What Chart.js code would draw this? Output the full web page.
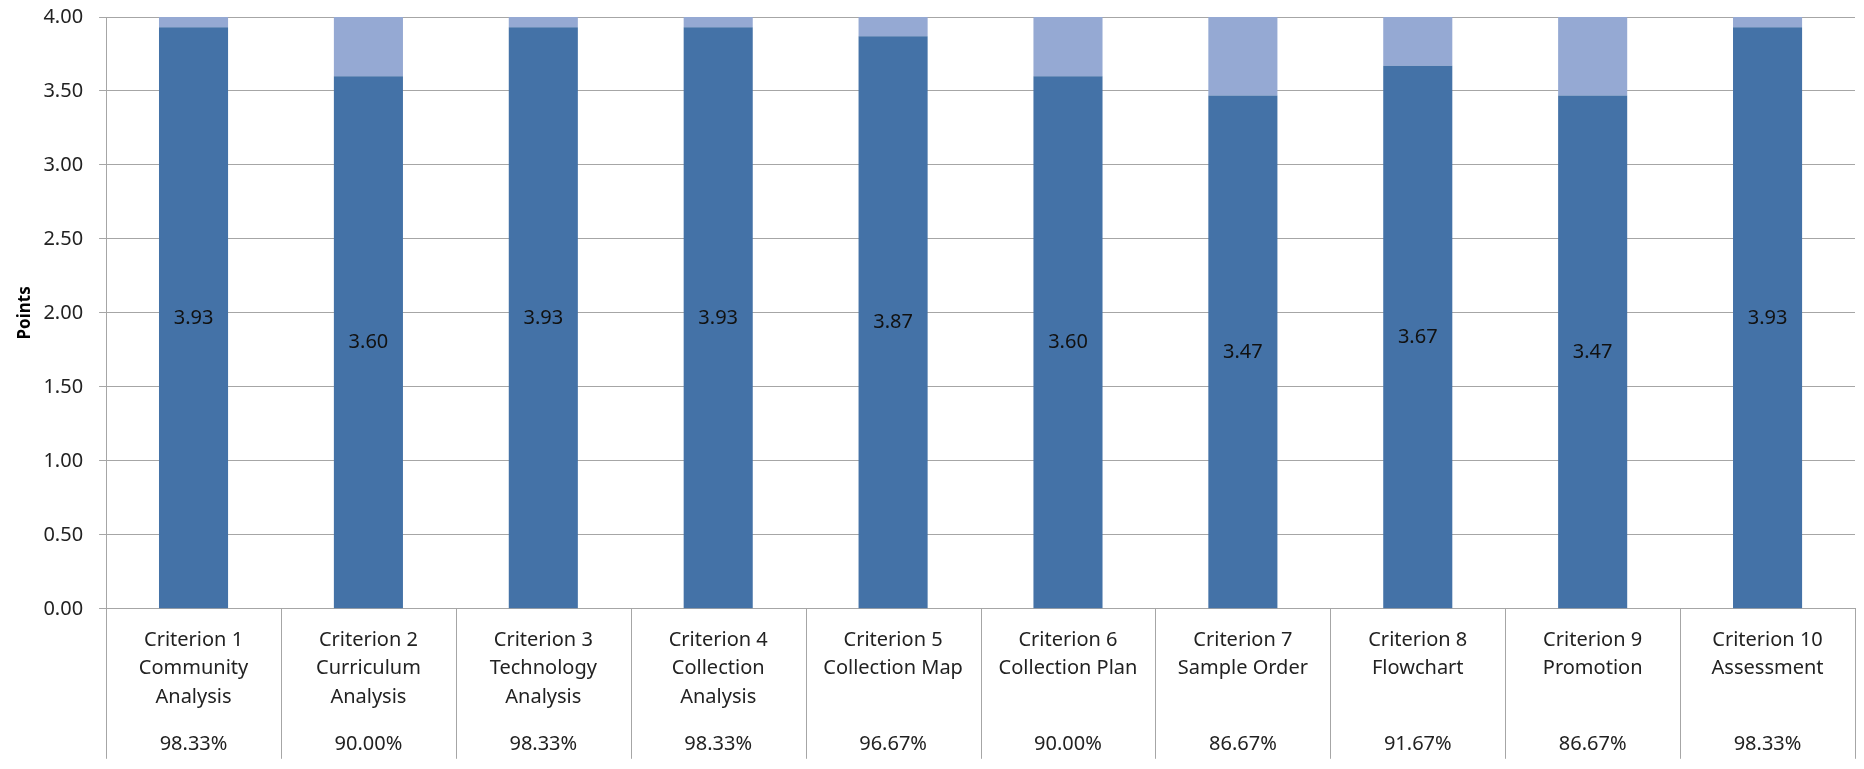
<!DOCTYPE html>
<html>
<head>
<meta charset="utf-8">
<script src="https://cdn.jsdelivr.net/npm/chart.js@4.4.0/dist/chart.umd.min.js"></script>
<style>
    html, body { margin: 0; padding: 0; background: #fff; }
    #wrap { width: 1864px; height: 769px; position: relative; }
</style>
</head>
<body>
<div id="wrap"><canvas id="pointsChart"></canvas></div>
<script>
var criteria = [
    ['Criterion 1', 'Community', 'Analysis'],
    ['Criterion 2', 'Curriculum', 'Analysis'],
    ['Criterion 3', 'Technology', 'Analysis'],
    ['Criterion 4', 'Collection', 'Analysis'],
    ['Criterion 5', 'Collection Map'],
    ['Criterion 6', 'Collection Plan'],
    ['Criterion 7', 'Sample Order'],
    ['Criterion 8', 'Flowchart'],
    ['Criterion 9', 'Promotion'],
    ['Criterion 10', 'Assessment']
];
var scores = [3.93, 3.60, 3.93, 3.93, 3.87, 3.60, 3.47, 3.67, 3.47, 3.93];
var missing = [0.07, 0.40, 0.07, 0.07, 0.13, 0.40, 0.53, 0.33, 0.53, 0.07];
var percents = ['98.33%', '90.00%', '98.33%', '98.33%', '96.67%', '90.00%', '86.67%', '91.67%', '86.67%', '98.33%'];
var yTicks = [0, 0.5, 1, 1.5, 2, 2.5, 3, 3.5, 4];

var fontFamily = '"Noto Sans", "Open Sans", sans-serif';
var lineColor = '#a6a6a6';
var plotTop = 17;

// value labels in the middle of the dark bars + table lines / percent row under the axis
var extrasPlugin = {
    id: 'extras',
    afterLayout: function(chart) {
        // pull the top of the plot up to where the original has it
        var y = chart.scales.y;
        var area = chart.chartArea;
        area.top = plotTop;
        area.height = area.bottom - plotTop;
        y.top = plotTop;
        y.height = y.bottom - plotTop;
        y.configure();
    },
    afterDatasetsDraw: function(chart) {
        var ctx = chart.ctx;
        var meta = chart.getDatasetMeta(0);
        ctx.save();
        ctx.font = '20px ' + fontFamily;
        ctx.fillStyle = '#111';
        ctx.textAlign = 'center';
        ctx.textBaseline = 'middle';
        meta.data.forEach(function(bar, i) {
            ctx.fillText(scores[i].toFixed(2), bar.x, (bar.y + bar.base) / 2);
        });
        ctx.restore();
    },
    afterDraw: function(chart) {
        var ctx = chart.ctx;
        var area = chart.chartArea;
        var xs = chart.scales.x;
        var step = (area.right - area.left) / criteria.length;
        ctx.save();
        ctx.strokeStyle = lineColor;
        ctx.lineWidth = 1;
        for (var i = 0; i <= criteria.length; i++) {
            var x = Math.round(area.left + i * step) + 0.5;
            ctx.beginPath();
            ctx.moveTo(x, area.bottom);
            ctx.lineTo(x, area.bottom + 150);
            ctx.stroke();
        }
        ctx.font = '20px ' + fontFamily;
        ctx.fillStyle = '#222';
        ctx.textAlign = 'center';
        ctx.textBaseline = 'middle';
        percents.forEach(function(p, i) {
            ctx.fillText(p, xs.getPixelForValue(i), area.bottom + 135);
        });
        ctx.restore();
    }
};

var ctx = document.getElementById('pointsChart').getContext('2d');
var pointsChart = new Chart(ctx, {
    type: 'bar',
    data: {
        labels: criteria,
        datasets: [{
            label: 'Points',
            data: scores,
            backgroundColor: '#4472a7',
            barPercentage: 0.395,
            categoryPercentage: 1.0
        }, {
            label: 'Missing',
            data: missing,
            backgroundColor: '#95a9d3',
            barPercentage: 0.395,
            categoryPercentage: 1.0
        }]
    },
    options: {
        responsive: true,
        maintainAspectRatio: false,
        animation: false,
        layout: { autoPadding: false, padding: { left: 11, right: 9, top: 6, bottom: 41 } },
        plugins: {
            legend: { display: false },
            tooltip: { enabled: false }
        },
        scales: {
            x: {
                stacked: true,
                grid: { display: false, drawTicks: false },
                border: { display: true, color: lineColor },
                ticks: {
                    font: { family: fontFamily, size: 20, lineHeight: 1.42 },
                    color: '#222',
                    padding: 17,
                    maxRotation: 0,
                    autoSkip: false
                }
            },
            y: {
                stacked: true,
                min: 0,
                max: 4,
                afterBuildTicks: function(axis) {
                    axis.ticks = yTicks.map(function(v) { return { value: v }; });
                },
                grid: { color: lineColor, tickLength: 7 },
                border: { display: true, color: lineColor },
                ticks: {
                    font: { family: fontFamily, size: 20 },
                    color: '#222',
                    padding: 16,
                    callback: function(v) { return Number(v).toFixed(2); }
                },
                title: {
                    display: true,
                    text: 'Points',
                    padding: { top: 4, bottom: -8 },
                    font: { family: fontFamily, size: 17, weight: 'bold' },
                    color: '#000'
                }
            }
        }
    },
    plugins: [extrasPlugin]
});
</script>
</body>
</html>
